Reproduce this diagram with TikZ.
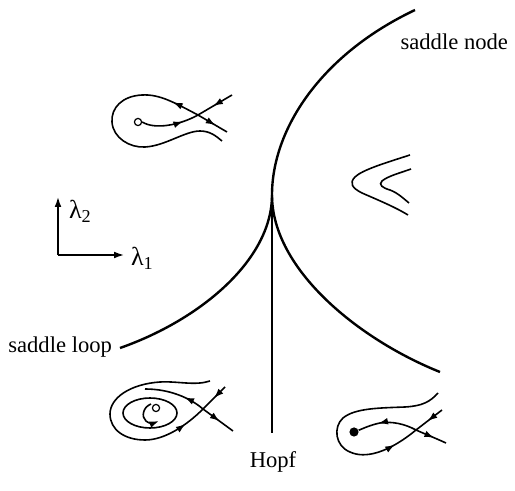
\documentclass[tikz,border=0pt]{standalone}
\usepackage{fontspec}
\setmainfont{Liberation Serif}
\usetikzlibrary{arrows.meta, decorations.markings}
\tikzset{
  flow/.style={postaction={decorate},
    decoration={markings, mark=at position #1 with {\arrow{Latex[length=4.8pt,width=3.4pt]}}}},
  orbit/.style={line width=0.8pt},
  branch/.style={line width=1.2pt},
  focus/.style={circle, draw, line width=0.6pt, inner sep=0pt, minimum size=3.6pt},
  sink/.style={circle, fill, inner sep=0pt, minimum size=4.6pt},
  lbl/.style={font=\fontsize{11.3}{13}\selectfont},
  axlbl/.style={font=\fontsize{13}{15}\selectfont}
}

\begin{document}
\begin{tikzpicture}[x=0.5pt, y=-0.5pt]
  % one unit = one pixel of the 515 x 491 frame, y pointing down
  \useasboundingbox (0,0) rectangle (515,491);
  % Bifurcation curves meeting at the cusp.
  \coordinate (bt)      at (272,195);
  \coordinate (snTop)   at (415,10);
  \coordinate (snBot)   at (440,372);
  \coordinate (slEnd)   at (120,348);
  \coordinate (hopfEnd) at (272,433);
  \draw[branch] (snTop) .. controls (320,55) and (272,130) .. (bt)
                        .. controls (272,270) and (360,340) .. (snBot);
  \draw[branch] (bt) .. controls (272,260) and (200,320) .. (slEnd);
  \draw[line width=0.9pt] (bt) -- (hopfEnd);
  \node[lbl,anchor=east] (snLabel)   at (515,42)  {saddle node};
  \node[lbl,anchor=east] (slLabel)   at (119,347) {saddle loop};
  \node[lbl]             (hopfLabel) at (273,462) {Hopf};
  % Parameter axes.
  \coordinate (origin) at (58,255);
  \coordinate (l1tip)  at (124,255);
  \coordinate (l2tip)  at (58,197);
  \draw[line width=0.7pt,-{Latex[length=5pt,width=3.4pt]}] (origin) -- (l1tip);
  \draw[line width=0.7pt,-{Latex[length=5pt,width=3.4pt]}] (origin) -- (l2tip);
  \node[axlbl,anchor=west] (lam1) at (124,258) {λ\textsubscript{1}};
  \node[axlbl,anchor=west] (lam2) at (62,211)  {λ\textsubscript{2}};
  % Upper left: loop broken outward.
  \coordinate (s1) at (198,115);
  \node[focus] (f1) at (138,122) {};
  \draw[orbit,flow=0.55] (232,95) -- (s1);
  \draw[orbit,flow=0.6]  (s1) -- (227,132);
  \draw[orbit,flow=0.72] (f1.east) .. controls (155,130) and (180,125) .. (s1);
  \draw[orbit,flow=0.12] (s1) .. controls (175,103) and (160,94) .. (142,95)
      .. controls (122,96) and (111,108) .. (112,122)
      .. controls (113,138) and (130,148) .. (145,147)
      .. controls (165,146) and (185,131) .. (200,131)
      .. controls (210,131) and (216,136) .. (222,141);
  % Right: no equilibria.
  \draw[orbit] (410,155) .. controls (385,163) and (362,170) .. (355,177)
      .. controls (349,183) and (352,188) .. (362,193)
      .. controls (378,200) and (395,207) .. (408,215);
  \draw[orbit] (411,169) .. controls (400,173) and (388,176) .. (382,181)
      .. controls (378,185) and (383,188) .. (390,190)
      .. controls (398,193) and (404,199) .. (409,203);
  % Lower left: limit cycle round the focus.
  \coordinate (s3) at (203,409);
  \node[focus] (f3) at (156,408) {};
  \draw[orbit] (150,413) ellipse [x radius=27, y radius=15];
  \draw[orbit,-{Latex[length=4.8pt,width=3.4pt]}] (151,404)
      .. controls (143,407) and (141,417) .. (146,421)
      .. controls (149,424) and (154,423) .. (159,421);
  \draw[orbit,flow=0.5]  (225,387) -- (s3);
  \draw[orbit,flow=0.55] (s3) -- (233,431);
  \draw[orbit,flow=0.35] (s3) .. controls (190,398) and (170,389) .. (145,389);
  \draw[orbit,flow=0.9] (210,381) .. controls (195,386) and (178,381) .. (160,382)
      .. controls (130,384) and (110,398) .. (110,414)
      .. controls (110,430) and (125,440) .. (145,440)
      .. controls (165,440) and (187,425) .. (s3);
  % Lower right: node and saddle.
  \coordinate (s4) at (416,430);
  \node[sink] (d4) at (354,432) {};
  \draw[orbit,flow=0.55] (442,410) -- (s4);
  \draw[orbit,flow=0.6]  (s4) .. controls (425,434) and (435,438) .. (446,443);
  \draw[orbit,flow=0.65] (s4) .. controls (405,424) and (392,421) .. (380,423)
      .. controls (370,425) and (362,429) .. (d4);
  \draw[orbit,flow=0.88] (438,393) .. controls (430,402) and (422,406) .. (405,407)
      .. controls (380,408) and (355,408) .. (343,418)
      .. controls (333,427) and (335,446) .. (350,452)
      .. controls (365,459) and (388,453) .. (s4);
\end{tikzpicture}
\end{document}
